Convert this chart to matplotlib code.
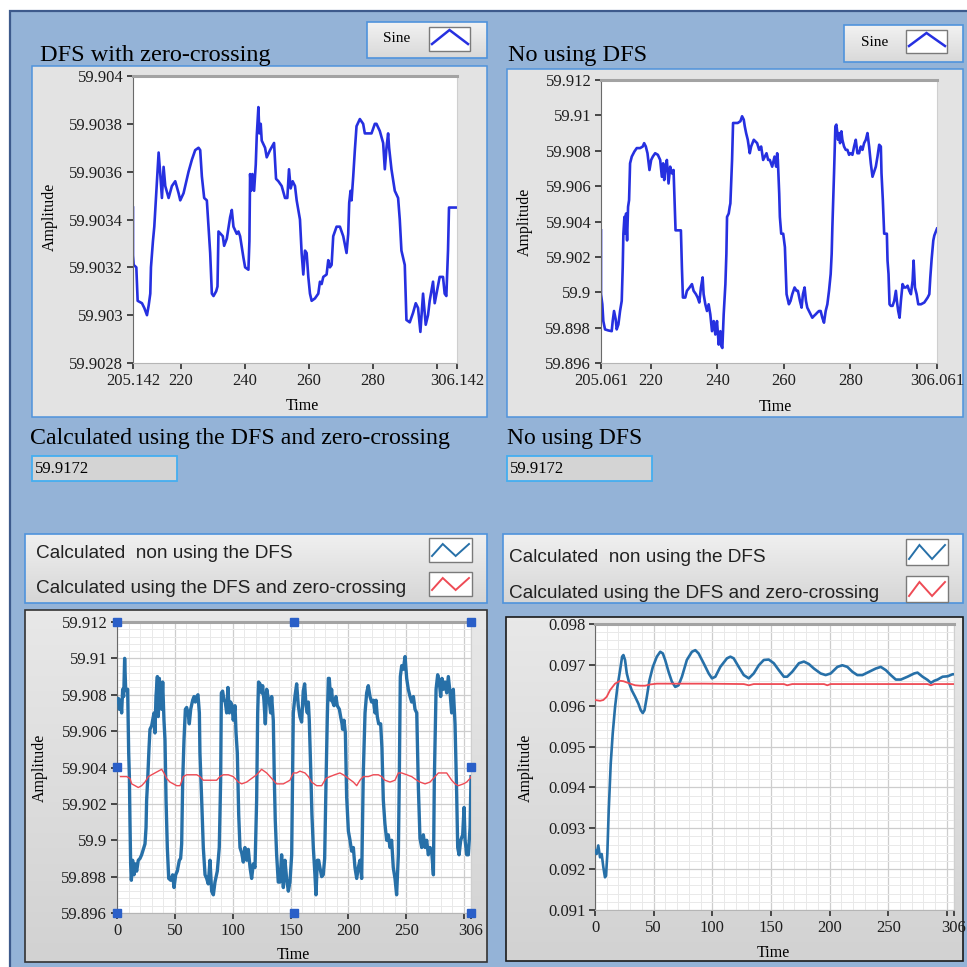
import numpy as np
import matplotlib
matplotlib.use("Agg")
import matplotlib.pyplot as plt
from matplotlib.patches import Rectangle
from matplotlib.colors import LinearSegmentedColormap
from matplotlib.ticker import FixedLocator, MultipleLocator, FuncFormatter

W, H = 967, 967
SERIF = "Liberation Serif"
SANS = "Liberation Sans"
plt.rcParams["font.family"] = SERIF

# ---- data ----
# top left: DFS with zero-crossing
tl_time = [205.142, 205.142, 205.35, 206.18, 206.59, 207.94, 208.67, 209.50, 210.02, 210.53,
           210.74, 211.36, 211.78, 212.09, 212.61, 213.13, 213.64, 214.16, 214.68, 215.20,
           216.24, 217.27, 218.31, 219.35, 219.87, 220.90, 222.46, 223.50, 224.53, 225.57,
           226.09, 226.61, 227.33, 228.16, 228.68, 229.20, 229.72, 230.24, 231.07, 231.48,
           231.79, 233.14, 233.55, 234.38, 235.42, 235.94, 236.46, 237.49, 238.01, 238.53,
           239.57, 240.09, 241.12, 241.43, 241.64, 241.95, 242.37, 242.89, 243.41, 243.72,
           244.23, 244.54, 244.96, 245.27, 246.31, 246.83, 247.86, 249.11, 249.73, 250.46,
           251.49, 252.53, 253.25, 253.77, 254.29, 254.91, 255.64, 256.16, 257.19, 257.71,
           258.23, 258.75, 259.27, 259.79, 260.31, 260.83, 261.86, 262.90, 263.42, 263.94,
           264.46, 265.49, 266.01, 266.53, 267.05, 267.56, 268.60, 269.64, 270.68, 271.71,
           272.23, 272.54, 272.96, 273.27, 273.79, 274.30, 274.82, 275.86, 276.89, 277.41,
           278.45, 279.49, 280.01, 280.53, 281.04, 282.08, 283.12, 283.64, 284.16, 284.67,
           284.98, 285.71, 286.75, 287.78, 288.30, 288.82, 289.86, 290.38, 291.41, 292.45,
           293.28, 294.00, 294.73, 295.56, 296.39, 297.11, 297.63, 298.67, 299.19, 299.91,
           300.74, 301.78, 302.30, 302.82, 303.34, 303.65, 306.142]
tl_amp = [59.90345, 59.90325, 59.90321, 59.90320, 59.90306, 59.90305, 59.90303, 59.90300, 59.90304, 59.90309,
          59.90320, 59.90331, 59.90337, 59.90344, 59.90356, 59.90368, 59.90359, 59.90349, 59.90362, 59.90354,
          59.90349, 59.90354, 59.90356, 59.90351, 59.90348, 59.90351, 59.90360, 59.90365, 59.90369, 59.90370,
          59.90369, 59.90358, 59.90349, 59.90348, 59.90337, 59.90326, 59.90309, 59.90308, 59.90310, 59.90312,
          59.90335, 59.90333, 59.90329, 59.90332, 59.90341, 59.90344, 59.90337, 59.90334, 59.90335, 59.90333,
          59.90324, 59.90320, 59.90319, 59.90331, 59.90359, 59.90352, 59.90359, 59.90352, 59.90363, 59.90375,
          59.90387, 59.90376, 59.90380, 59.90373, 59.90370, 59.90366, 59.90369, 59.90372, 59.90357, 59.90356,
          59.90354, 59.90349, 59.90349, 59.90361, 59.90353, 59.90356, 59.90354, 59.90348, 59.90340, 59.90326,
          59.90317, 59.90327, 59.90326, 59.90316, 59.90309, 59.90306, 59.90307, 59.90309, 59.90314, 59.90313,
          59.90316, 59.90317, 59.90323, 59.90320, 59.90321, 59.90333, 59.90337, 59.90337, 59.90333, 59.90326,
          59.90334, 59.90347, 59.90352, 59.90348, 59.90358, 59.90369, 59.90379, 59.90382, 59.90380, 59.90376,
          59.90376, 59.90376, 59.90378, 59.90380, 59.90380, 59.90377, 59.90372, 59.90361, 59.90370, 59.90376,
          59.90370, 59.90361, 59.90352, 59.90349, 59.90340, 59.90327, 59.90321, 59.90298, 59.90297, 59.90301,
          59.90305, 59.90303, 59.90293, 59.90309, 59.90296, 59.90300, 59.90306, 59.90314, 59.90305, 59.90310,
          59.90316, 59.90316, 59.90309, 59.90308, 59.90327, 59.90345, 59.90345]

# top right: no DFS
tr_time = [205.061, 205.061, 205.46, 205.76, 206.27, 207.27, 208.28, 208.58, 208.98, 209.48,
           209.78, 210.29, 210.79, 211.29, 211.59, 211.79, 212.10, 212.30, 212.60, 212.90,
           213.20, 213.50, 213.70, 213.80, 214.31, 215.11, 215.81, 216.82, 217.62, 218.03,
           218.53, 219.03, 219.63, 220.14, 220.64, 221.34, 222.15, 222.85, 223.35, 223.75,
           224.06, 224.36, 224.86, 225.36, 225.86, 226.37, 226.87, 227.17, 227.47, 228.38,
           229.08, 229.38, 229.68, 230.39, 230.89, 231.69, 232.40, 232.90, 233.60, 234.11,
           234.61, 235.11, 235.61, 235.91, 236.42, 236.92, 237.42, 237.92, 238.43, 238.93,
           239.43, 239.93, 240.44, 240.94, 241.24, 241.54, 241.94, 242.45, 242.75, 242.95,
           243.45, 243.75, 243.95, 244.46, 244.76, 245.46, 246.16, 246.97, 247.47, 247.97,
           248.28, 248.68, 249.18, 249.48, 249.78, 250.19, 250.99, 251.99, 252.60, 253.20,
           253.80, 254.31, 254.81, 255.31, 255.81, 256.52, 257.22, 257.72, 258.02, 258.22,
           258.63, 258.83, 259.23, 259.83, 260.34, 260.84, 261.54, 262.04, 262.55, 263.25,
           263.85, 264.25, 264.86, 265.36, 265.76, 266.26, 266.67, 267.07, 267.57, 268.07,
           268.58, 269.08, 269.58, 270.08, 270.59, 271.09, 271.59, 272.09, 272.60, 273.10,
           273.60, 274.10, 274.40, 274.61, 275.11, 275.51, 275.81, 276.11, 276.31, 276.62,
           276.92, 277.32, 277.62, 278.12, 278.63, 279.13, 279.63, 280.13, 280.64, 281.14,
           281.64, 282.14, 282.65, 283.15, 283.65, 284.15, 284.66, 285.16, 285.66, 286.16,
           286.67, 287.17, 287.67, 288.17, 288.68, 289.18, 289.38, 289.78, 290.18, 290.99,
           291.19, 291.49, 291.79, 292.19, 292.70, 293.20, 293.70, 294.00, 294.40, 294.81,
           295.21, 295.71, 296.21, 296.72, 297.22, 297.72, 298.22, 298.73, 299.03, 299.43,
           299.93, 300.43, 301.24, 302.24, 303.25, 303.75, 304.05, 304.45, 304.95, 305.26,
           305.86, 306.061]
tr_amp = [59.90350, 59.89989, 59.89932, 59.89837, 59.89790, 59.89784, 59.89780, 59.89837, 59.89894, 59.89847,
          59.89790, 59.89818, 59.89894, 59.89951, 59.90141, 59.90331, 59.90426, 59.90331, 59.90445, 59.90293,
          59.90483, 59.90521, 59.90672, 59.90729, 59.90767, 59.90796, 59.90815, 59.90815, 59.90824, 59.90843,
          59.90824, 59.90786, 59.90691, 59.90748, 59.90767, 59.90786, 59.90777, 59.90748, 59.90653, 59.90729,
          59.90634, 59.90691, 59.90748, 59.90615, 59.90710, 59.90672, 59.90691, 59.90521, 59.90350, 59.90350,
          59.90350, 59.90141, 59.89970, 59.89970, 59.90008, 59.90027, 59.90046, 59.90008, 59.89989, 59.89970,
          59.89942, 59.90027, 59.90084, 59.89989, 59.89932, 59.89894, 59.89932, 59.89875, 59.89780, 59.89837,
          59.89761, 59.89837, 59.89704, 59.89780, 59.89695, 59.89685, 59.89875, 59.90046, 59.90217, 59.90426,
          59.90445, 59.90483, 59.90502, 59.90748, 59.90957, 59.90957, 59.90957, 59.90967, 59.90995, 59.90976,
          59.90938, 59.90900, 59.90862, 59.90824, 59.90786, 59.90824, 59.90862, 59.90843, 59.90805, 59.90824,
          59.90748, 59.90767, 59.90786, 59.90748, 59.90748, 59.90710, 59.90767, 59.90710, 59.90786, 59.90748,
          59.90558, 59.90426, 59.90331, 59.90331, 59.90255, 59.89989, 59.89932, 59.89951, 59.89989, 59.90027,
          59.90008, 59.90008, 59.89951, 59.89913, 59.89989, 59.90027, 59.89951, 59.89913, 59.89894, 59.89875,
          59.89856, 59.89866, 59.89875, 59.89885, 59.89894, 59.89894, 59.89856, 59.89828, 59.89894, 59.89932,
          59.90008, 59.90103, 59.90217, 59.90369, 59.90672, 59.90938, 59.90948, 59.90900, 59.90862, 59.90900,
          59.90843, 59.90910, 59.90862, 59.90824, 59.90805, 59.90805, 59.90777, 59.90786, 59.90777, 59.90824,
          59.90862, 59.90786, 59.90786, 59.90824, 59.90805, 59.90843, 59.90862, 59.90900, 59.90824, 59.90729,
          59.90653, 59.90682, 59.90710, 59.90767, 59.90834, 59.90824, 59.90672, 59.90521, 59.90331, 59.90331,
          59.90179, 59.90103, 59.89932, 59.89923, 59.89923, 59.89951, 59.90008, 59.89951, 59.89894, 59.89856,
          59.89951, 59.90046, 59.90027, 59.90027, 59.90037, 59.90008, 59.89989, 59.90065, 59.90179, 59.90027,
          59.89989, 59.89932, 59.89932, 59.89942, 59.89970, 59.89989, 59.90084, 59.90188, 59.90293, 59.90321,
          59.90350, 59.90360]

# bottom left: frequency, non using DFS (blue) and DFS + zero-crossing (red)
bl_time = [0, 1.2, 2.0, 3.2, 4.0, 4.9, 5.8, 6.6, 7.5, 8.4, 9.2, 10.1, 10.7, 11.2, 11.8, 12.4, 13.5, 14.7,
           15.8, 17.0, 18.4, 19.9, 21.3, 22.8, 24.2, 25.1, 25.6, 26.5, 27.7, 28.5, 30.0, 30.8, 32.0, 32.8,
           33.7, 34.9, 35.7, 36.6, 37.7, 38.6, 39.5, 40.6, 41.5, 42.4, 43.5, 44.7, 46.4, 48.1, 49.3, 50.7,
           52.1, 53.9, 55.0, 55.9, 56.8, 57.9, 59.1, 60.2, 61.4, 62.5, 63.7, 65.4, 66.6, 67.7, 68.9, 70.0,
           71.2, 71.7, 73.2, 74.6, 76.1, 77.5, 78.9, 80.4, 81.8, 83.3, 84.7, 86.7, 88.4, 89.6, 90.2, 91.3,
           92.5, 93.6, 94.8, 95.9, 97.1, 98.2, 99.4, 100.5, 102.0, 102.9, 104.0, 105.2, 106.3, 107.8, 109.2,
           110.6, 112.1, 113.5, 115.0, 116.4, 117.8, 119.3, 120.7, 121.6, 122.4, 123.6, 125.0, 125.9, 127.0,
           128.2, 129.4, 130.5, 131.7, 132.8, 133.7, 135.1, 136.0, 136.8, 138.0, 139.4, 140.9, 142.3, 143.8,
           145.2, 146.6, 148.1, 149.5, 151.0, 152.4, 153.8, 155.3, 156.7, 158.1, 159.6, 161.0, 162.2, 163.4,
           164.5, 165.4, 166.2, 167.4, 168.5, 169.7, 171.1, 172.0, 173.2, 174.3, 175.4, 176.9, 178.3, 179.5,
           180.6, 181.8, 182.7, 183.5, 184.7, 185.5, 186.4, 187.6, 189.3, 190.4, 192.2, 193.3, 194.5, 195.0,
           196.2, 197.4, 198.5, 200.0, 201.4, 202.8, 204.3, 205.7, 207.2, 208.6, 210.0, 211.5, 212.9, 214.4,
           215.8, 217.2, 218.7, 220.1, 221.6, 223.0, 223.9, 225.0, 226.2, 227.9, 229.0, 230.2, 231.6, 233.1,
           234.5, 236.0, 237.4, 238.8, 240.3, 241.7, 243.2, 244.0, 244.9, 246.1, 247.5, 249.0, 250.4, 251.8,
           253.3, 254.7, 256.2, 257.6, 259.1, 260.5, 261.9, 263.4, 264.8, 266.3, 267.7, 269.1, 270.6, 272.0,
           273.5, 274.3, 275.8, 277.2, 278.6, 279.8, 280.9, 282.1, 283.5, 285.0, 286.4, 287.9, 289.3, 290.7,
           292.2, 293.6, 294.5, 295.7, 297.1, 298.8, 300.0, 300.9, 302.3, 303.7, 305.2, 306.0]
bl_non = [59.9076, 59.9078, 59.9072, 59.9077, 59.9070, 59.9083, 59.9079, 59.9100, 59.9083, 59.9082, 59.9083,
          59.9048, 59.9035, 59.9011, 59.8987, 59.8978, 59.8989, 59.8981, 59.8987, 59.8983, 59.8989, 59.8990,
          59.8992, 59.8995, 59.8998, 59.9007, 59.9022, 59.9033, 59.9051, 59.9061, 59.9063, 59.9066, 59.9070,
          59.9059, 59.9079, 59.9090, 59.9068, 59.9089, 59.9076, 59.9072, 59.9087, 59.9066, 59.9055, 59.9022,
          59.8996, 59.8979, 59.8978, 59.8981, 59.8974, 59.8981, 59.8983, 59.8989, 59.8990, 59.8998, 59.9033,
          59.9055, 59.9072, 59.9073, 59.9070, 59.9064, 59.9072, 59.9077, 59.9079, 59.9076, 59.9079, 59.9080,
          59.9070, 59.9048, 59.9022, 59.8996, 59.8981, 59.8979, 59.8976, 59.8989, 59.8972, 59.8970, 59.8977,
          59.8983, 59.8996, 59.9033, 59.9081, 59.9082, 59.9077, 59.9076, 59.9070, 59.9084, 59.9070, 59.9076,
          59.9074, 59.9066, 59.9074, 59.9059, 59.9048, 59.9014, 59.8996, 59.8993, 59.8988, 59.8996, 59.8989,
          59.8995, 59.8985, 59.8979, 59.8987, 59.8985, 59.9022, 59.9070, 59.9087, 59.9086, 59.9081, 59.9085,
          59.9077, 59.9064, 59.9083, 59.9079, 59.9076, 59.9070, 59.9079, 59.9066, 59.9033, 59.9011, 59.8992,
          59.8977, 59.8977, 59.8992, 59.8974, 59.8989, 59.8979, 59.8972, 59.8977, 59.8992, 59.9070, 59.9079,
          59.9086, 59.9074, 59.9068, 59.9065, 59.9082, 59.9086, 59.9074, 59.9070, 59.9076, 59.9066, 59.9040,
          59.9014, 59.8996, 59.8981, 59.8970, 59.8989, 59.8989, 59.8985, 59.8980, 59.8981, 59.8990, 59.9029,
          59.9068, 59.9089, 59.9089, 59.9077, 59.9083, 59.9076, 59.9074, 59.9079, 59.9074, 59.9072, 59.9068,
          59.9064, 59.9061, 59.9066, 59.9059, 59.9024, 59.9005, 59.9000, 59.8994, 59.8996, 59.8985, 59.8979,
          59.8985, 59.8989, 59.8979, 59.9037, 59.9070, 59.9081, 59.9085, 59.9079, 59.9076, 59.9077, 59.9070,
          59.9077, 59.9068, 59.9064, 59.9064, 59.9051, 59.9022, 59.9009, 59.9000, 59.9003, 59.8996, 59.9000,
          59.8985, 59.8979, 59.8970, 59.8992, 59.9033, 59.9090, 59.9096, 59.9094, 59.9101, 59.9089, 59.9083,
          59.9079, 59.9076, 59.9079, 59.9072, 59.9070, 59.9029, 59.9001, 59.8996, 59.9003, 59.8996, 59.9000,
          59.8992, 59.8996, 59.8994, 59.8981, 59.9033, 59.9083, 59.9091, 59.9087, 59.9079, 59.9089, 59.9083,
          59.9087, 59.9081, 59.9090, 59.9081, 59.9070, 59.9083, 59.9064, 59.9026, 59.8996, 59.8992, 59.9000,
          59.9003, 59.9018, 59.9000, 59.8992, 59.8992, 59.9007, 59.9035]
bl_red_time = [3.0, 8.4, 11.2, 12.7, 15.6, 18.4, 21.3, 24.2, 27.1, 30.0, 32.8, 35.7, 38.6, 40.6, 42.9, 45.8,
               48.7, 51.6, 54.5, 57.3, 60.2, 64.5, 68.9, 71.7, 74.6, 80.4, 86.1, 89.0, 91.9, 96.2, 100.5,
               104.9, 107.8, 112.1, 116.4, 120.7, 125.0, 129.4, 135.1, 138.0, 143.8, 149.5, 152.4, 155.3,
               158.1, 162.5, 165.4, 168.2, 172.6, 176.9, 180.6, 184.1, 188.1, 192.7, 195.6, 200.0, 204.3,
               207.2, 210.0, 212.9, 217.2, 221.6, 225.9, 228.8, 231.6, 236.0, 240.3, 243.2, 246.1, 250.4,
               254.7, 259.1, 261.9, 266.3, 270.6, 274.9, 277.8, 280.7, 285.0, 289.3, 292.2, 295.1, 299.4,
               302.3, 305.2, 306.0]
bl_red = [59.9035, 59.9035, 59.9034, 59.9031, 59.9030, 59.9029, 59.9030, 59.9032, 59.9035, 59.9036, 59.9037,
          59.9038, 59.9039, 59.9037, 59.9034, 59.9032, 59.9031, 59.9030, 59.9030, 59.9035, 59.9036, 59.9036,
          59.9036, 59.9035, 59.9033, 59.9033, 59.9033, 59.9035, 59.9036, 59.9036, 59.9035, 59.9032, 59.9031,
          59.9032, 59.9034, 59.9036, 59.9039, 59.9037, 59.9033, 59.9031, 59.9031, 59.9033, 59.9037, 59.9037,
          59.9038, 59.9037, 59.9035, 59.9032, 59.9030, 59.9030, 59.9034, 59.9035, 59.9036, 59.9037, 59.9036,
          59.9034, 59.9032, 59.9030, 59.9033, 59.9035, 59.9035, 59.9036, 59.9036, 59.9035, 59.9033, 59.9032,
          59.9033, 59.9037, 59.9037, 59.9036, 59.9035, 59.9033, 59.9032, 59.9031, 59.9032, 59.9035, 59.9037,
          59.9037, 59.9037, 59.9033, 59.9031, 59.9030, 59.9031, 59.9032, 59.9034, 59.9035]
bl_cursor_t = [0, 153, 306, 0, 306, 0, 153, 306]
bl_cursor_v = [59.912, 59.912, 59.912, 59.904, 59.904, 59.896, 59.896, 59.896]

# bottom right: amplitude estimate
br_time = [0, 1.4, 2.8, 4.3, 5.7, 7.1, 8.5, 9.4, 10.5, 11.7, 13.4, 15.1, 17.1, 19.1, 21.4, 23.1, 24.2,
           25.6, 27.1, 29.3, 31.3, 34.2, 37.0, 39.0, 40.7, 42.2, 44.2, 46.4, 49.3, 52.7, 55.6, 57.8, 59.8,
           62.7, 65.5, 68.4, 71.2, 74.1, 78.3, 82.6, 85.5, 88.3, 92.6, 96.9, 99.7, 102.6, 106.8, 112.5,
           115.4, 118.2, 122.5, 126.8, 131.1, 135.3, 139.6, 143.9, 148.1, 152.4, 156.7, 161.0, 163.8,
           168.1, 173.8, 178.1, 182.3, 186.6, 192.3, 196.6, 200.9, 206.6, 210.8, 215.1, 219.4, 223.6,
           227.9, 233.6, 239.3, 243.6, 247.9, 252.1, 256.4, 260.7, 266.4, 272.1, 274.9, 279.2, 283.5,
           286.3, 289.2, 292.0, 296.3, 300.6, 304.8, 306.0]
br_non = [0.09246, 0.09237, 0.09258, 0.09229, 0.09237, 0.09205, 0.09180, 0.09184, 0.09237, 0.09344,
          0.09458, 0.09532, 0.09597, 0.09646, 0.09687, 0.09720, 0.09724, 0.09712, 0.09679, 0.09654,
          0.09638, 0.09622, 0.09605, 0.09589, 0.09582, 0.09589, 0.09622, 0.09662, 0.09695, 0.09720,
          0.09732, 0.09728, 0.09712, 0.09683, 0.09659, 0.09646, 0.09650, 0.09671, 0.09712, 0.09732,
          0.09736, 0.09728, 0.09704, 0.09679, 0.09667, 0.09671, 0.09695, 0.09716, 0.09720, 0.09716,
          0.09695, 0.09675, 0.09667, 0.09679, 0.09699, 0.09712, 0.09713, 0.09704, 0.09687, 0.09671,
          0.09671, 0.09683, 0.09704, 0.09708, 0.09702, 0.09691, 0.09679, 0.09675, 0.09679, 0.09695,
          0.09699, 0.09695, 0.09683, 0.09675, 0.09675, 0.09683, 0.09691, 0.09695, 0.09687, 0.09675,
          0.09664, 0.09664, 0.09671, 0.09679, 0.09681, 0.09671, 0.09663, 0.09656, 0.09661, 0.09664,
          0.09671, 0.09672, 0.09677, 0.09677]
br_red_time = [0, 4.3, 7.1, 10.0, 12.8, 17.1, 21.4, 24.2, 27.1, 29.9, 34.2, 38.5, 42.7, 47.0, 52.7, 69.8,
               92.6, 126.8, 131.1, 135.3, 161.0, 163.8, 168.1, 195.2, 198.0, 200.9, 283.5, 286.3, 289.2, 306.0]
br_red = [0.09614, 0.09612, 0.09614, 0.09622, 0.09638, 0.09654, 0.09661, 0.09660, 0.09657, 0.09654,
          0.09650, 0.09649, 0.09649, 0.09652, 0.09654, 0.09654, 0.09654, 0.09653, 0.09650, 0.09653,
          0.09653, 0.09650, 0.09653, 0.09653, 0.09650, 0.09653, 0.09653, 0.09650, 0.09653, 0.09653]

readout_value = "59.9172"

# ---- colours ----
PANEL = "#94b3d7"
EDGE_DARK = "#3d5a8c"
FRAME_BLUE = "#4f93dc"
SINE_BLUE = "#2630e0"
NON_BLUE = "#2770a8"
DFS_RED = "#ee4b55"

fig = plt.figure(figsize=(W / 100, H / 100), dpi=100)
fig.patch.set_facecolor("white")

# background canvas in pixel units (top-left origin)
bg = fig.add_axes([0, 0, 1, 1])
bg.axis("off")


def rect(x0, y0, x1, y1, fc, ec="none", lw=1.0, z=1):
    bg.add_patch(Rectangle((x0, y0), x1 - x0, y1 - y0, facecolor=fc,
                           edgecolor=ec, linewidth=lw, zorder=z))


def shaded(x0, y0, x1, y1, top, bottom, ec, lw=1.2, z=2):
    cmap = LinearSegmentedColormap.from_list("g", [top, bottom])
    bg.imshow(np.linspace(0, 1, 64)[:, None], extent=(x0, x1, y1, y0), cmap=cmap,
              aspect="auto", zorder=z, interpolation="bilinear")
    rect(x0, y0, x1, y1, "none", ec, lw, z + 0.1)


def swatch(x0, y0, x1, y1, color, kind):
    rect(x0, y0, x1, y1, "white", "#7a7a7a", 1.0, 4)
    if kind == "sine":
        xs = [x0 + 3, (x0 + x1) / 2, x1 - 2]
        ys = [y1 - 7, y0 + 3, y1 - 7]
        lw = 1.8
    else:
        w = x1 - x0
        xs = [x0 + 3, x0 + 0.32 * w, x0 + 0.62 * w, x1 - 3]
        ys = [y1 - 6, y0 + 6, y1 - 6, y0 + 6]
        lw = 1.4
    bg.plot(xs, ys, color=color, lw=lw, zorder=5, solid_joinstyle="miter")


# panel background and border
rect(10, 11, W + 5, H + 5, PANEL, EDGE_DARK, 1.6, 0)

# top-left block
rect(32, 66, 487, 417, "#e3e3e3", FRAME_BLUE, 1.1, 1)
shaded(367, 22, 487, 58, "#f2f2f2", "#d9d9d9", FRAME_BLUE)
bg.text(383, 39, "Sine", fontsize=11, va="center", ha="left", zorder=6)
swatch(429, 27, 470, 51, SINE_BLUE, "sine")
bg.text(40, 61, "DFS with zero-crossing", fontsize=17.5, va="baseline", ha="left")

# top-right block
rect(507, 69, 963, 417, "#e3e3e3", FRAME_BLUE, 1.1, 1)
shaded(844, 25, 963, 62, "#f2f2f2", "#d9d9d9", FRAME_BLUE)
bg.text(861, 42, "Sine", fontsize=11, va="center", ha="left", zorder=6)
swatch(906, 30, 947, 53, SINE_BLUE, "sine")
bg.text(508, 61, "No using DFS", fontsize=17.5, va="baseline", ha="left")

# numeric readouts
bg.text(30, 444, "Calculated using the DFS and zero-crossing", fontsize=17.2, va="baseline", ha="left")
rect(32, 456, 177, 481, "#d4d4d4", "#44aef0", 1.3, 2)
bg.text(35, 469, readout_value, fontsize=12, va="center", ha="left", zorder=3)
bg.text(507, 444, "No using DFS", fontsize=17, va="baseline", ha="left")
rect(507, 456, 652, 481, "#d4d4d4", "#44aef0", 1.3, 2)
bg.text(510, 469, readout_value, fontsize=12, va="center", ha="left", zorder=3)

# bottom legends and frames
for lx0, lx1, tx, base1, base2, sw_x0, sw_x1, sw1, sw2 in [
        (25, 487, 36, 558, 593, 429, 472, (538, 562), (572, 596)),
        (503, 963, 509, 562, 598, 906, 948, (539, 565), (576, 602))]:
    shaded(lx0, 534, lx1, 603, "#f0f0f0", "#d6d6d6", FRAME_BLUE, 1.2, 2)
    bg.text(tx, base1, "Calculated  non using the DFS", fontsize=13.7, family=SANS,
            va="baseline", ha="left", color="#222222", zorder=6)
    bg.text(tx, base2, "Calculated using the DFS and zero-crossing", fontsize=13.7, family=SANS,
            va="baseline", ha="left", color="#222222", zorder=6)
    swatch(sw_x0, sw1[0], sw_x1, sw1[1], NON_BLUE, "zig")
    swatch(sw_x0, sw2[0], sw_x1, sw2[1], DFS_RED, "zig")

shaded(25, 610, 487, 962, "#e8e8e8", "#d2d2d2", "#333333", 1.2, 2)
shaded(506, 617, 963, 961, "#e8e8e8", "#d2d2d2", "#1a1a1a", 1.2, 2)

# axis titles
for x, y in [(50, 217), (525, 222), (40, 768), (526, 768)]:
    bg.text(x, y, "Amplitude", rotation=90, fontsize=11.5, ha="center", va="center", zorder=6)
for x, y in [(302, 406), (775, 407), (293, 955), (773, 953)]:
    bg.text(x, y, "Time", fontsize=11.5, ha="center", va="center", zorder=6)

bg.set_xlim(0, W)
bg.set_ylim(H, 0)


def trim(v, pos=None):
    return f"{v:.4f}".rstrip("0").rstrip(".")


def plot_axes(x0, y0, x1, y1):
    ax = fig.add_axes([x0 / W, 1 - y1 / H, (x1 - x0) / W, (y1 - y0) / H])
    ax.set_facecolor("white")
    ax.spines["left"].set_color("#6a6a6a")
    ax.spines["bottom"].set_color("#b5b5b5")
    ax.spines["top"].set_color("#a3a3a3")
    ax.spines["top"].set_linewidth(2.2)
    ax.spines["right"].set_color("#cfcfcf")
    ax.tick_params(direction="out", length=4.5, width=1.3, color="#3a3a3a",
                   labelsize=12, pad=2.5, labelcolor="#1e1e1e")
    ax.tick_params(which="minor", length=0)
    ax.yaxis.set_major_formatter(FuncFormatter(trim))
    return ax


# top-left graph
ax1 = plot_axes(133, 76, 457, 363)
ax1.plot(tl_time, tl_amp, color=SINE_BLUE, lw=1.9)
ax1.set_xlim(205.142, 306.142)
ax1.set_ylim(59.9028, 59.904)
ax1.yaxis.set_major_locator(FixedLocator(np.linspace(59.9028, 59.904, 7)))
ax1.xaxis.set_major_locator(FixedLocator([205.142, 220, 240, 260, 280, 300, 306.142]))
ax1.set_xticklabels(["205.142", "220", "240", "260", "280", "", "306.142"])

# top-right graph
ax2 = plot_axes(601, 80, 937, 363)
ax2.plot(tr_time, tr_amp, color=SINE_BLUE, lw=1.9)
ax2.set_xlim(205.061, 306.061)
ax2.set_ylim(59.896, 59.912)
ax2.yaxis.set_major_locator(FixedLocator(np.linspace(59.896, 59.912, 9)))
ax2.xaxis.set_major_locator(FixedLocator([205.061, 220, 240, 260, 280, 300, 306.061]))
ax2.set_xticklabels(["205.061", "220", "240", "260", "280", "", "306.061"])

time_ticks = [0, 50, 100, 150, 200, 250, 300, 306]
time_labels = ["0", "50", "100", "150", "200", "250", "", "306"]


def grid_style(ax, yminor):
    ax.xaxis.set_minor_locator(MultipleLocator(10))
    ax.yaxis.set_minor_locator(MultipleLocator(yminor))
    ax.grid(which="major", color="#cdcdcd", lw=0.9)
    ax.grid(which="minor", color="#e9e9e9", lw=0.7)
    ax.set_axisbelow(True)


# bottom-left graph
ax3 = plot_axes(117, 622, 471, 913)
grid_style(ax3, 0.0004)
ax3.plot(bl_time, bl_non, color=NON_BLUE, lw=2.4, zorder=3)
ax3.plot(bl_red_time, bl_red, color=DFS_RED, lw=1.0, zorder=4)
ax3.plot(bl_cursor_t, bl_cursor_v, "s", color="#2a5fc8", ms=5.5, clip_on=False, zorder=6)
ax3.set_xlim(0, 306)
ax3.set_ylim(59.896, 59.912)
ax3.yaxis.set_major_locator(FixedLocator(np.linspace(59.896, 59.912, 9)))
ax3.xaxis.set_major_locator(FixedLocator(time_ticks))
ax3.set_xticklabels(time_labels)

# bottom-right graph
ax4 = plot_axes(595, 624, 954, 910)
grid_style(ax4, 0.0002)
ax4.plot(br_time, br_non, color=NON_BLUE, lw=1.9, zorder=3)
ax4.plot(br_red_time, br_red, color=DFS_RED, lw=1.3, zorder=4)
ax4.set_xlim(0, 306)
ax4.set_ylim(0.091, 0.098)
ax4.yaxis.set_major_locator(FixedLocator(np.linspace(0.091, 0.098, 8)))
ax4.xaxis.set_major_locator(FixedLocator(time_ticks))
ax4.set_xticklabels(time_labels)

fig.savefig("out.png", dpi=100, facecolor=fig.get_facecolor())
